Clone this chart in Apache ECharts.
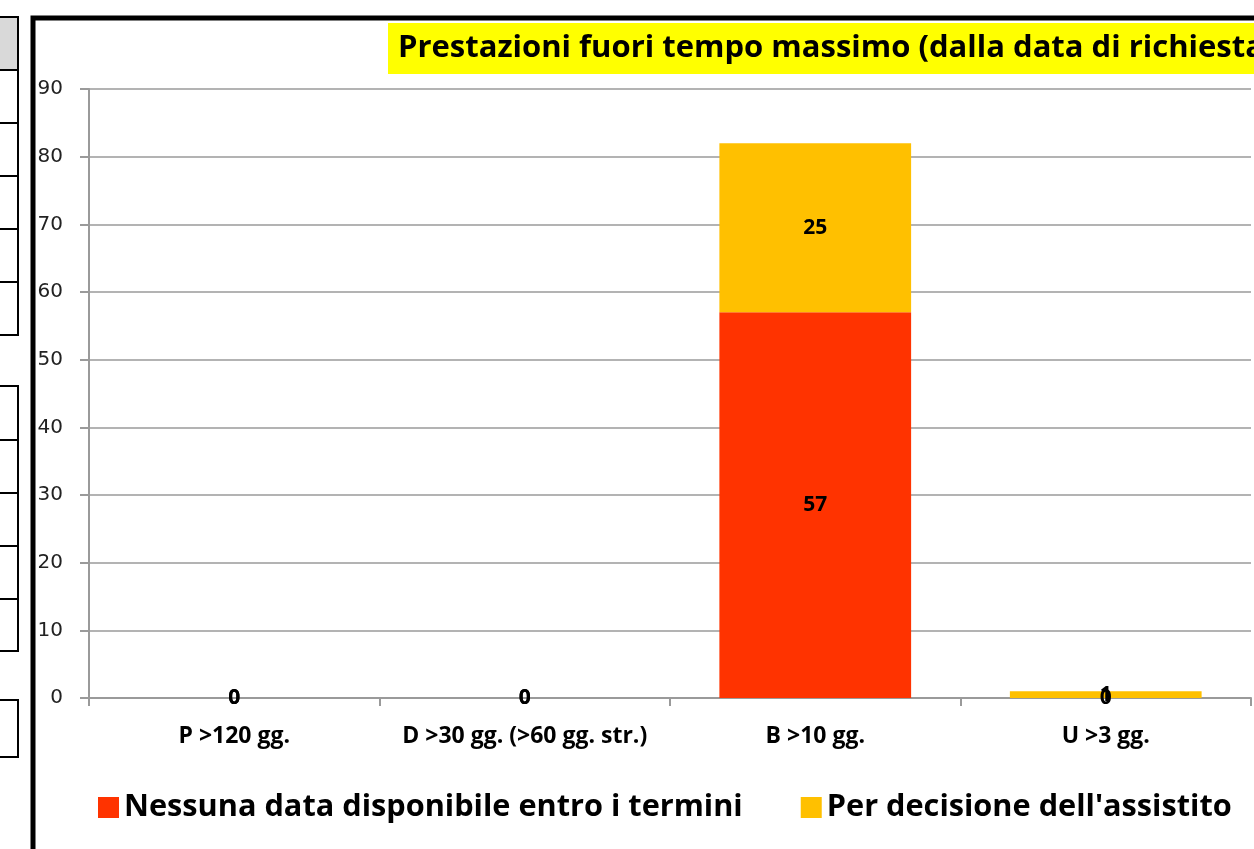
<!DOCTYPE html>
<html>
<head>
<meta charset="utf-8">
<title>Prestazioni fuori tempo massimo</title>
<script src="https://cdn.jsdelivr.net/npm/echarts@6/dist/echarts.min.js"></script>
<style>
	html, body { margin: 0; padding: 0; background: #fff; }
	#main { width: 1254px; height: 849px; }
</style>
</head>
<body>
<div id="main"></div>
<script>
	// dati
	var categorie = ['P >120 gg.', 'D >30 gg. (>60 gg. str.)', 'B >10 gg.', 'U >3 gg.'];
	var nessunaData = [0, 0, 57, 0];
	var decisioneAssistito = [0, 0, 25, 1];
	var yTicks = [0, 10, 20, 30, 40, 50, 60, 70, 80, 90];
	var titolo = 'Prestazioni fuori tempo massimo (dalla data di richiesta';

	var chart = echarts.init(document.getElementById('main'));

	// celle del foglio a sinistra (solo decorazione)
	function cella(y, h, fill) {
		return {
			type: 'rect',
			shape: { x: -6, y: y, width: 24, height: h },
			style: { fill: fill || '#fff', stroke: '#000', lineWidth: 2 },
			z: 0
		};
	}
	var celle = [
		cella(17, 53, '#d9d9d9'), cella(70, 53), cella(123, 53), cella(176, 53), cella(229, 53), cella(282, 53),
		cella(386, 54), cella(440, 53), cella(493, 53), cella(546, 53), cella(599, 52),
		cella(700, 57)
	];

	var labelStyle = {
		show: true,
		position: 'inside',
		color: '#000',
		fontFamily: 'Open Sans',
		fontWeight: 'bold',
		fontSize: 21
	};

	chart.setOption({
		animation: false,
		backgroundColor: '#fff',
		title: {
			text: titolo,
			left: 388,
			top: 23,
			padding: [8, 10, 9, 10],
			backgroundColor: '#ffff00',
			textStyle: {
				fontFamily: 'Open Sans',
				fontWeight: 'bold',
				fontSize: 31,
				lineHeight: 34,
				color: '#000'
			}
		},
		legend: {
			data: ['Nessuna data disponibile entro i termini', "Per decisione dell'assistito"],
			left: 93,
			top: 787,
			itemWidth: 21,
			itemHeight: 21,
			itemGap: 58,
			icon: 'rect',
			textStyle: {
				fontFamily: 'Open Sans',
				fontWeight: 'bold',
				fontSize: 30.7,
				color: '#000'
			}
		},
		grid: {
			left: 89,
			right: 3,
			top: 89,
			bottom: 151
		},
		xAxis: {
			type: 'category',
			data: categorie,
			axisLine: { lineStyle: { color: '#9a9a9a', width: 2 } },
			axisTick: { show: true, length: 8, alignWithLabel: false, lineStyle: { color: '#9a9a9a', width: 2 } },
			axisLabel: {
				interval: 0,
				hideOverlap: false,
				margin: 27,
				color: '#000',
				fontFamily: 'Open Sans',
				fontWeight: 'bold',
				fontSize: 23
			}
		},
		yAxis: {
			type: 'value',
			min: yTicks[0],
			max: yTicks[yTicks.length - 1],
			interval: 10,
			axisLine: { show: true, lineStyle: { color: '#9a9a9a', width: 2 } },
			axisTick: { show: true, length: 9, lineStyle: { color: '#9a9a9a', width: 2 } },
			splitLine: { lineStyle: { color: '#9a9a9a', width: 1.5 } },
			axisLabel: {
				margin: 26,
				color: '#222',
				fontFamily: 'DejaVu Sans',
				fontSize: 20
			}
		},
		series: [
			{
				name: 'Nessuna data disponibile entro i termini',
				type: 'bar',
				stack: 'tot',
				barWidth: '66%',
				itemStyle: { color: '#ff3300' },
				label: labelStyle,
				data: nessunaData
			},
			{
				name: "Per decisione dell'assistito",
				type: 'bar',
				stack: 'tot',
				barWidth: '66%',
				itemStyle: { color: '#ffc000' },
				label: labelStyle,
				data: decisioneAssistito
			}
		],
		graphic: celle.concat([
			{
				type: 'rect',
				shape: { x: 33, y: 18, width: 1400, height: 1000 },
				style: { fill: 'none', stroke: '#000', lineWidth: 5 },
				z: 0
			}
		])
	});
</script>
</body>
</html>
